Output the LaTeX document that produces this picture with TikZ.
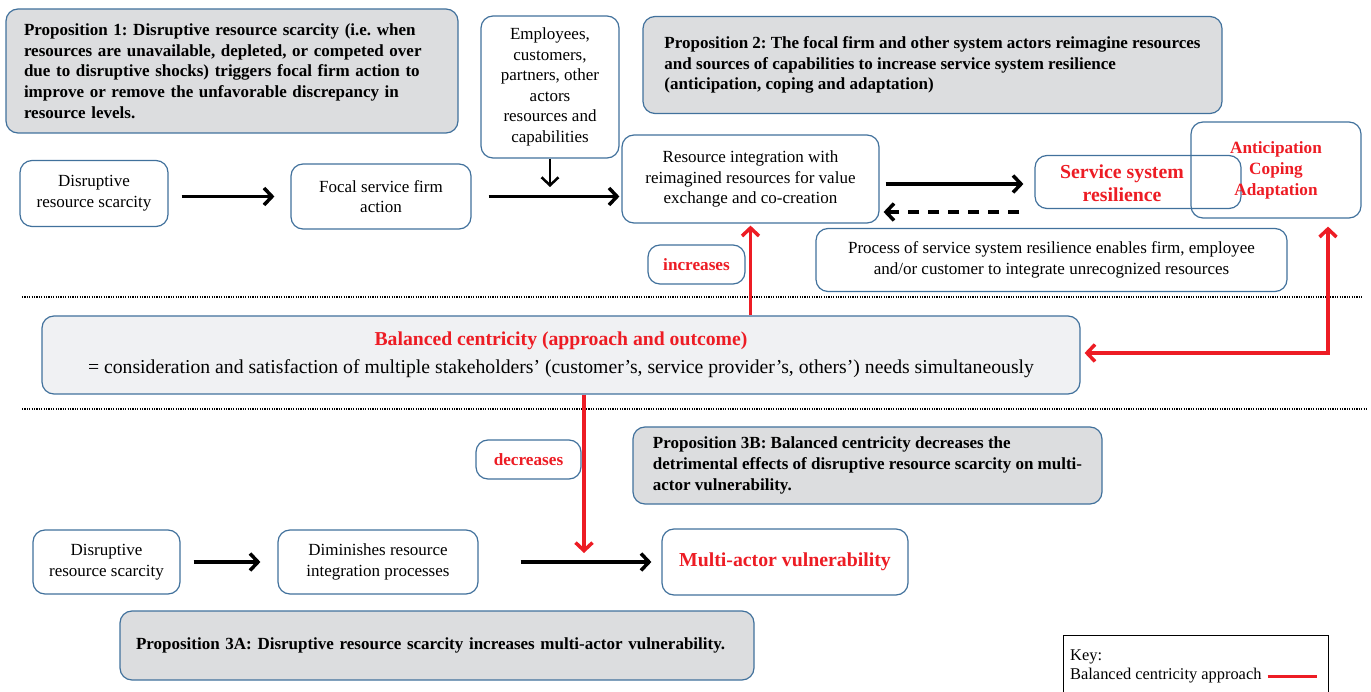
\documentclass[tikz,border=0pt]{standalone}
\usepackage{fontspec}
\setmainfont{Liberation Serif}
\usetikzlibrary{arrows.meta, positioning, calc}

\definecolor{boxblue}{RGB}{65,113,156}
\definecolor{propgray}{RGB}{220,221,223}
\definecolor{balgray}{RGB}{240,241,243}
\definecolor{keyred}{RGB}{237,28,36}

\tikzset{
  box/.style={draw=boxblue, line width=1.2pt, rounded corners=12pt, fill=white,
    align=center, inner sep=6pt, font=\fontsize{17}{20.6}\selectfont},
  propbox/.style={box, fill=propgray, align=left, inner xsep=17pt,
    font=\fontsize{17}{20.7}\selectfont\bfseries},
  redbold/.style={text=keyred, font=\fontsize{17.2}{21}\selectfont\bfseries},
  bigred/.style={text=keyred, font=\fontsize{19.8}{23.5}\selectfont\bfseries},
  arr/.style={line width=3.5pt, -{Straight Barb[length=8pt, width=17pt]}},
  redarr/.style={arr, draw=keyred},
  sepline/.style={line width=2.5pt, dash pattern=on 1.2pt off 1.2pt},
}
\frenchspacing

\begin{document}
\begin{tikzpicture}[x=1pt, y=-1pt]
    \useasboundingbox (0,0) rectangle (1371,692);

    % Propositions
    \node[propbox, text width=416pt, inner xsep=18pt, minimum width=452pt, minimum height=124pt] (prop1) at (232,71)
      {Proposition 1: Disruptive resource scarcity (i.e. when\\resources are unavailable, depleted, or competed over\\due to disruptive shocks) triggers focal firm action to\\improve or remove the unfavorable discrepancy in\\resource levels.};
    \node[propbox, minimum width=579pt, minimum height=97pt] (prop2) at (932.5,65)
      {Proposition 2: The focal firm and other system actors reimagine resources\\and sources of capabilities to increase service system resilience\\(anticipation, coping and adaptation)};
    \node[propbox, minimum width=469pt, minimum height=77pt] (prop3b) at (867.5,465.5)
      {Proposition 3B: Balanced centricity decreases the\\detrimental effects of disruptive resource scarcity on multi-\\actor vulnerability.};
    \node[propbox, text width=602pt, inner xsep=16pt, minimum width=634pt, minimum height=69pt] (prop3a) at (437,645.5)
      {Proposition 3A: Disruptive resource scarcity increases multi-actor vulnerability.};

    % Upper chain
    \node[box, minimum width=138pt, minimum height=142pt] (emp) at (550,87)
      {Employees,\\customers,\\partners, other\\actors\\resources and\\capabilities};
    \node[box, minimum width=148pt, minimum height=66pt] (drsa) at (94,193.5) {Disruptive\\resource scarcity};
    \node[box, minimum width=180pt, minimum height=65pt] (focal) at (381,196.5) {Focal service firm\\action};
    \node[box, minimum width=257pt, minimum height=88pt] (resint) at (750.5,179)
      {Resource integration with\\reimagined resources for value\\exchange and co-creation};
    \node[box, minimum width=206pt, minimum height=53pt] (ssr) at (1138,182) {};
    \node[bigred, align=center] (ssrtxt) at (1122,183) {Service system\\resilience};
    \node[box, fill=none, redbold, minimum width=170pt, minimum height=96pt] (acap) at (1276,170)
      {Anticipation\\Coping\\Adaptation};
    \node[box, minimum width=471pt, minimum height=63pt] (proc) at (1051.5,260)
      {Process of service system resilience enables firm, employee\\and/or customer to integrate unrecognized resources};
    \node[box, redbold, minimum width=97pt, minimum height=39pt] (incr) at (696.5,264.5) {increases};

    % Separators
    \draw[sepline] (22,297) -- (1362,297);
    \draw[sepline] (22,409) -- (1368,409);

    % Balanced centricity
    \node[box, fill=balgray, minimum width=1038pt, minimum height=78pt, font=\fontsize{19.7}{22}\selectfont] (bal) at (561,355)
      {\textcolor{keyred}{\bfseries Balanced centricity (approach and outcome)}\\[6pt]= consideration and satisfaction of multiple stakeholders' (customer's, service provider's, others') needs simultaneously};

    % Lower chain
    \node[box, redbold, minimum width=105pt, minimum height=39pt] (decr) at (528.5,459.5) {decreases};
    \node[box, minimum width=147pt, minimum height=64pt] (drsb) at (106.5,562) {Disruptive\\resource scarcity};
    \node[box, minimum width=200pt, minimum height=64pt] (dimin) at (378,562) {Diminishes resource\\integration processes};
    \node[box, bigred, minimum width=246pt, minimum height=66pt] (mav) at (785,562) {Multi-actor vulnerability};

    % Key
    \draw[line width=1pt] (1063,692) -- (1063,635) -- (1328,635) -- (1328,692);
    \node[anchor=west, inner sep=0pt, font=\fontsize{16.4}{19}\selectfont] (keyhead) at (1070,657) {Key:};
    \node[anchor=west, inner sep=0pt, font=\fontsize{16.4}{19}\selectfont] (keylbl) at (1070,676) {Balanced centricity approach};
    \draw[keyred, line width=3pt] ([xshift=6pt]keylbl.east) -- ++(49,0);

    % Black arrows
    \coordinate (empend) at (550,187);
    \draw[arr, line width=2.5pt] (emp.south) -- (empend);
    \draw[arr, shorten <=13pt, shorten >=16pt] (drsa.east |- focal.center) -- (focal.west);
    \draw[arr, shorten <=17pt, shorten >=2pt] (focal.east) -- (focal.east -| resint.west);
    \draw[arr, shorten <=6pt, shorten >=11pt] ([yshift=-5pt]resint.east) -- ([yshift=-5pt]resint.east -| ssr.west);
    \draw[arr, dash pattern=on 11pt off 9pt, shorten <=15pt, shorten >=4pt] ([yshift=-33pt]resint.east -| ssr.west) -- ([yshift=-33pt]resint.east);
    \draw[arr, shorten <=13pt, shorten >=17pt] (drsb.east) -- (dimin.west);
    \draw[arr, shorten <=42pt, shorten >=10pt] (dimin.east) -- (mav.west);

    % Red arrows
    \coordinate (acapin) at ([xshift=52pt]acap.south);
    \coordinate (decend) at (584,553);
    \draw[redarr, shorten >=2pt] (resint.south |- bal.north) -- (resint.south);
    \draw[redarr, {Straight Barb[length=8pt, width=17pt]}-{Straight Barb[length=8pt, width=17pt]}, shorten <=4pt, shorten >=8pt]
      ([yshift=2pt]bal.east) -- ([yshift=2pt]bal.east -| acapin) -- (acapin);
    \draw[redarr] (bal.south -| decend) -- (decend);
\end{tikzpicture}
\end{document}
